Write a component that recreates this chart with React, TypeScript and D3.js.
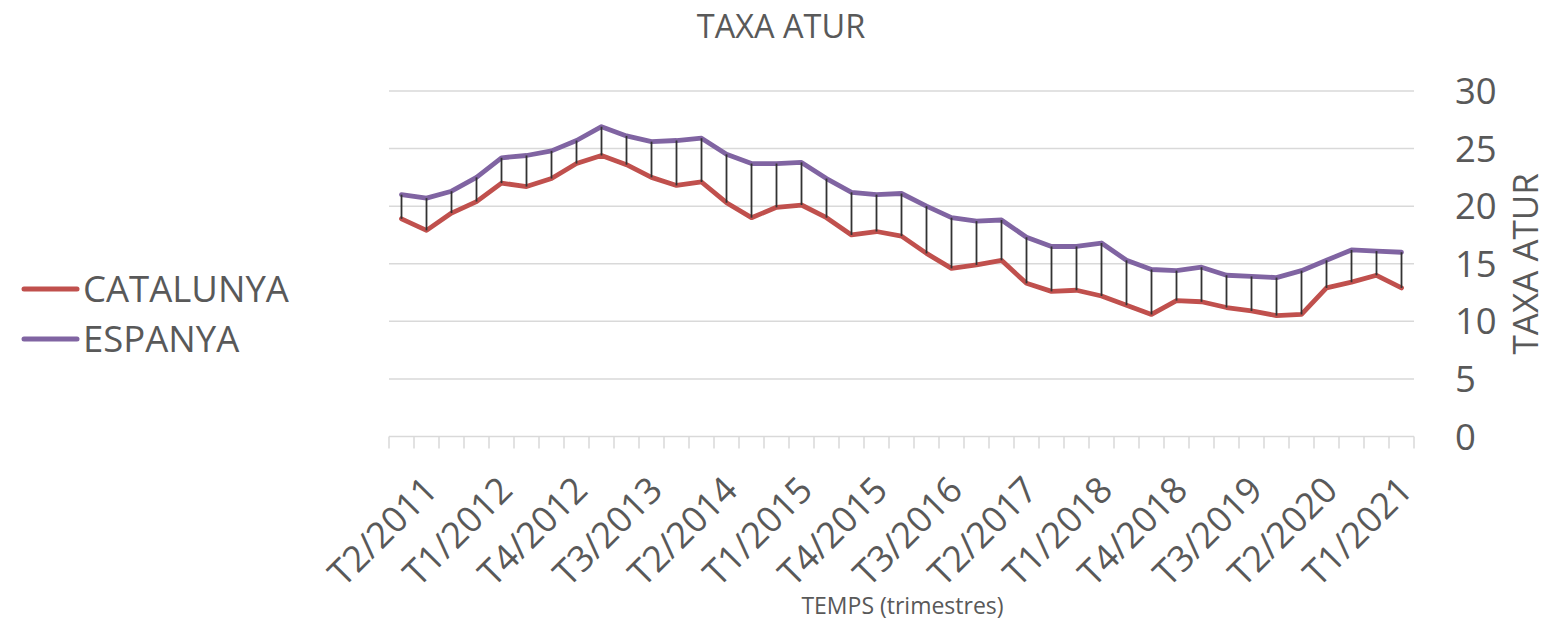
import React from "react";
import * as d3 from "d3";

const quarters: string[] = [
  "T2/2011","T3/2011","T4/2011",
  "T1/2012","T2/2012","T3/2012","T4/2012",
  "T1/2013","T2/2013","T3/2013","T4/2013",
  "T1/2014","T2/2014","T3/2014","T4/2014",
  "T1/2015","T2/2015","T3/2015","T4/2015",
  "T1/2016","T2/2016","T3/2016","T4/2016",
  "T1/2017","T2/2017","T3/2017","T4/2017",
  "T1/2018","T2/2018","T3/2018","T4/2018",
  "T1/2019","T2/2019","T3/2019","T4/2019",
  "T1/2020","T2/2020","T3/2020","T4/2020",
  "T1/2021","T2/2021",
];

const catalunya: number[] = [
  18.9, 17.9, 19.4, 20.4, 22.0, 21.7, 22.4, 23.7, 24.4, 23.6,
  22.5, 21.8, 22.1, 20.3, 19.0, 19.9, 20.1, 19.0, 17.5, 17.8,
  17.4, 15.9, 14.6, 14.9, 15.3, 13.3, 12.6, 12.7, 12.2, 11.4,
  10.6, 11.8, 11.7, 11.2, 10.9, 10.5, 10.6, 12.9, 13.4, 14.0,
  12.9,
];

const espanya: number[] = [
  21.0, 20.7, 21.3, 22.5, 24.2, 24.4, 24.8, 25.7, 26.9, 26.1,
  25.6, 25.7, 25.9, 24.5, 23.7, 23.7, 23.8, 22.4, 21.2, 21.0,
  21.1, 20.0, 19.0, 18.7, 18.8, 17.3, 16.5, 16.5, 16.8, 15.3,
  14.5, 14.4, 14.7, 14.0, 13.9, 13.8, 14.4, 15.3, 16.2, 16.1,
  16.0,
];

const yTicks: number[] = [0, 5, 10, 15, 20, 25, 30];
const labelStep = 3;

const seriesNames = ["CATALUNYA", "ESPANYA"];
const seriesColors = ["#C0504D", "#8064A2"];

const W = 1549;
const H = 624;
const FONT = "'Open Sans', sans-serif";
const TEXT = "#595959";

export default function App() {
  const x = d3.scaleBand<string>().domain(quarters).range([389, 1414]).paddingInner(0).paddingOuter(0);
  const y = d3.scaleLinear().domain([0, 30]).range([436.5, 91]);
  const cx = (q: string) => (x(q) as number) + x.bandwidth() / 2;

  const line = d3
    .line<number>()
    .x((_, i) => cx(quarters[i]))
    .y((d) => y(d));

  const seriesData = [catalunya, espanya];
  const [x0, x1] = x.range();
  const boundaries = d3.range(quarters.length + 1).map((k) => x0 + k * x.bandwidth());

  return (
    <svg
      width={W}
      height={H}
      style={{ position: "absolute", left: 0, top: 0, background: "#fff" }}
      fontFamily={FONT}
    >
      {/* title */}
      <text x={781} y={38} textAnchor="middle" fontSize={32.5} fill={TEXT}>
        TAXA ATUR
      </text>

      {/* gridlines */}
      {yTicks.map((t) => (
        <line key={"g" + t} x1={x0} x2={x1} y1={y(t)} y2={y(t)} stroke="#D9D9D9" strokeWidth={1.5} />
      ))}
      {/* category tick marks */}
      {boundaries.map((bx, k) => (
        <line key={"t" + k} x1={bx} x2={bx} y1={y(0)} y2={y(0) + 12} stroke="#D9D9D9" strokeWidth={1.5} />
      ))}

      {/* y tick labels (right) */}
      {yTicks.map((t) => (
        <text key={"yl" + t} x={1455} y={y(t) + 13} fontSize={36.5} fill={TEXT}>
          {t}
        </text>
      ))}

      {/* right axis title */}
      <text
        transform={`translate(1538, ${y(15)}) rotate(-90)`}
        textAnchor="middle"
        fontSize={35}
        fill={TEXT}
      >
        TAXA ATUR
      </text>

      {/* series lines */}
      {seriesData.map((s, i) => (
        <path
          key={"s" + i}
          d={line(s) || ""}
          fill="none"
          stroke={seriesColors[i]}
          strokeWidth={4.8}
          strokeLinejoin="round"
          strokeLinecap="round"
        />
      ))}

      {/* high-low lines */}
      {quarters.map((q, i) => (
        <line
          key={"hl" + i}
          x1={cx(q)}
          x2={cx(q)}
          y1={y(espanya[i])}
          y2={y(catalunya[i])}
          stroke="#333333"
          strokeWidth={1.8}
        />
      ))}

      {/* x tick labels */}
      {quarters.map((q, i) =>
        i % labelStep === 0 ? (
          <text
            key={"xl" + i}
            transform={`translate(${cx(q) + 29}, ${483}) rotate(-45)`}
            textAnchor="end"
            dy="0.36em"
            fontSize={36}
            fill={TEXT}
          >
            {q}
          </text>
        ) : null
      )}

      {/* x axis title */}
      <text x={902.5} y={614} textAnchor="middle" fontSize={23} fill={TEXT}>
        TEMPS (trimestres)
      </text>

      {/* legend */}
      {seriesNames.map((n, i) => (
        <g key={"lg" + i}>
          <line
            x1={24}
            x2={77}
            y1={289 + i * 50}
            y2={289 + i * 50}
            stroke={seriesColors[i]}
            strokeWidth={5}
            strokeLinecap="round"
          />
          <text x={83} y={289 + i * 50 + 13} fontSize={36.5} fill={TEXT}>
            {n}
          </text>
        </g>
      ))}
    </svg>
  );
}
